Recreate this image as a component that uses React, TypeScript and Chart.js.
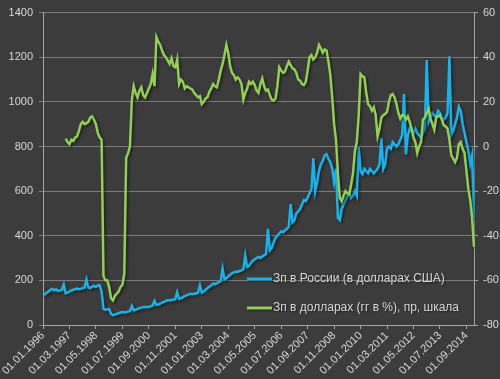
import React, { useEffect, useRef } from "react";
import { Chart, registerables } from "chart.js";

Chart.register(...registerables);

// Monthly categories: 01.01.1996 ... 01.01.2015
const START_YEAR = 1996;
const MONTH_COUNT = 229;
const CATEGORIES: string[] = [];
for (let k = 0; k < MONTH_COUNT; k++) {
  const y = START_YEAR + Math.floor(k / 12);
  const m = (k % 12) + 1;
  CATEGORIES.push(`01.${m < 10 ? "0" + m : m}.${y}`);
}
const LABEL_EVERY = 14;

const BLUE_LABEL = "Зп в России (в долларах США)";
const GREEN_LABEL = "Зп в долларах (гг в %), пр, шкала";

// Wages in Russia, USD (left axis), Jan 1996 - Jan 2015
const BLUE: number[] = [
  // 1996
  133, 138, 145, 150, 158, 162, 156, 160, 152, 155, 158, 182,
  // 1997
  142, 145, 150, 155, 158, 160, 163, 160, 162, 165, 168, 204,
  // 1998
  168, 165, 172, 175, 170, 178, 178, 150, 72, 68, 70, 72,
  // 1999
  50, 44, 47, 50, 53, 56, 58, 56, 58, 60, 62, 85,
  // 2000
  66, 68, 72, 75, 78, 80, 82, 80, 82, 84, 87, 108,
  // 2001
  90, 92, 96, 100, 104, 108, 112, 110, 112, 114, 116, 147,
  // 2002
  118, 120, 125, 130, 133, 137, 140, 138, 140, 142, 145, 178,
  // 2003
  145, 150, 158, 165, 172, 178, 185, 183, 188, 192, 198, 253,
  // 2004
  205, 210, 218, 225, 232, 236, 240, 238, 242, 245, 250, 311,
  // 2005
  260, 265, 278, 288, 295, 300, 305, 300, 308, 312, 318, 431,
  // 2006
  335, 345, 370, 390, 400, 410, 420, 415, 425, 430, 440, 542,
  // 2007
  460, 470, 500, 510, 520, 540, 560, 555, 570, 590, 610, 747,
  // 2008
  600, 640, 690, 720, 735, 760, 765, 745, 730, 700, 640, 700,
  // 2009
  480, 470, 520, 540, 560, 580, 590, 570, 580, 600, 580, 800,
  // 2010
  690, 676, 700, 690, 680, 700, 690, 680, 690, 700, 720, 836,
  // 2011
  700, 720, 790, 800, 790, 820, 810, 800, 810, 830, 850, 1035,
  // 2012
  765, 850, 880, 870, 860, 880, 860, 850, 840, 860, 880, 1187,
  // 2013
  911, 930, 950, 940, 930, 960, 950, 930, 920, 930, 950, 1204,
  // 2014
  853, 870, 900, 930, 978, 960, 900, 860, 820, 780, 720, 760,
  // 2015
  480,
];

// Wages in USD, year-on-year % (right axis), Jan 1997 - Jan 2015
const GREEN_START = 12;
const GREEN_VALUES: number[] = [
  // 1997
  3.5, 2, 1, 3, 2.5, 4, 4.5, 7, 10, 11, 10, 10.5,
  // 1998
  11, 13, 13.5, 12, 10, 6, 4, 3, -58, -60, -60, -63,
  // 1999
  -68, -69, -67, -66, -65, -63, -62, -57, -5, -3, 0, 21,
  // 2000
  27, 24, 22, 25, 26.5, 23, 22, 24, 26, 28, 32.5, 27,
  // 2001
  49, 47, 45.5, 43, 41, 40, 38.5, 37, 39.5, 36, 35.5, 39,
  // 2002
  28, 30, 29, 26, 27, 26.5, 26, 25.5, 24, 23, 22, 22.5,
  // 2003
  19, 20, 21.5, 22, 24.5, 26, 28, 27, 26.5, 30, 34, 37,
  // 2004
  41, 45.5, 42, 36, 33, 32, 30, 31, 30, 28, 21, 24,
  // 2005
  26, 29, 28, 29, 27.5, 25, 24, 28, 30.5, 27, 25, 25.5,
  // 2006
  23, 21, 20.5, 21.5, 27, 35.5, 34, 33, 33.5, 36, 38, 36.5,
  // 2007
  35, 34.5, 33, 30, 29.5, 28, 27.5, 29, 34, 40, 41, 39,
  // 2008
  40, 42, 45.5, 44, 42, 43.5, 43, 38, 32, 22, 10, 3,
  // 2009
  -12, -23, -24.5, -22, -20, -21, -21.5, -17, -12, -2, 2, 14,
  // 2010
  32.5, 31.5, 31, 24, 19, 18, 16, 17.5, 14, 4.5, 8, 13,
  // 2011
  14, 14.5, 15.5, 20, 23, 23.5, 22, 19, 15, 12.5, 14, 14,
  // 2012
  12, 13.5, 11, 8, 4, 2, -3, 0, 2, 12, 13, 15,
  // 2013
  17, 12.5, 10, 7.5, 13, 13.5, 14, 12, 9.5, 9, 8, 3,
  // 2014
  -4, -5.5, -7, -5, 1, 2, -1, -3, -11, -19, -24, -32,
  // 2015
  -45,
];
const GREEN: (number | null)[] = [
  ...new Array(GREEN_START).fill(null),
  ...GREEN_VALUES,
];

const LEFT_MIN = 0;
const LEFT_MAX = 1400;
const LEFT_STEP = 200;
const RIGHT_MIN = -80;
const RIGHT_MAX = 60;
const RIGHT_STEP = 20;

const BG = "#3c3c3c";
const TEXT = "#d9d9d9";
const GRID = "#7c7c7c";
const AXIS = "#a6a6a6";
const BLUE_COLOR = "#16b4ec";
const GREEN_COLOR = "#92d050";
const FONT = "'Liberation Sans', Arial, sans-serif";

export default function App() {
  const ref = useRef<HTMLCanvasElement | null>(null);

  useEffect(() => {
    document.body.style.margin = "0";
    const canvas = ref.current;
    if (!canvas) return;

    const bgPlugin = {
      id: "bg",
      beforeDraw(chart: any) {
        const ctx = chart.ctx;
        ctx.save();
        ctx.fillStyle = BG;
        ctx.fillRect(0, 0, chart.width, chart.height);
        ctx.restore();
      },
    };

    const shadowPlugin = {
      id: "lineShadow",
      beforeDatasetDraw(chart: any) {
        const ctx = chart.ctx;
        ctx.save();
        ctx.shadowColor = "rgba(0,0,0,0.55)";
        ctx.shadowBlur = 3;
        ctx.shadowOffsetX = 1.5;
        ctx.shadowOffsetY = 1.5;
      },
      afterDatasetDraw(chart: any) {
        chart.ctx.restore();
      },
    };

    const legendPlugin = {
      id: "innerLegend",
      afterDatasetsDraw(chart: any) {
        const ctx = chart.ctx;
        const items = [
          { label: BLUE_LABEL, color: BLUE_COLOR, y: 279 },
          { label: GREEN_LABEL, color: GREEN_COLOR, y: 308 },
        ];
        ctx.save();
        for (const it of items) {
          ctx.shadowColor = "rgba(0,0,0,0.5)";
          ctx.shadowBlur = 2;
          ctx.shadowOffsetX = 1;
          ctx.shadowOffsetY = 1;
          ctx.strokeStyle = it.color;
          ctx.lineWidth = 3;
          ctx.beginPath();
          ctx.moveTo(247, it.y);
          ctx.lineTo(272, it.y);
          ctx.stroke();
          ctx.fillStyle = TEXT;
          ctx.font = `12px ${FONT}`;
          ctx.textBaseline = "middle";
          ctx.textAlign = "left";
          ctx.fillText(it.label, 273, it.y);
        }
        ctx.restore();
      },
    };

    const chart = new Chart(canvas, {
      type: "line",
      data: {
        labels: CATEGORIES,
        datasets: [
          {
            label: BLUE_LABEL,
            data: BLUE,
            borderColor: BLUE_COLOR,
            backgroundColor: BLUE_COLOR,
            borderWidth: 2.5,
            pointRadius: 0,
            tension: 0,
            yAxisID: "y",
            order: 2,
          },
          {
            label: GREEN_LABEL,
            data: GREEN,
            borderColor: GREEN_COLOR,
            backgroundColor: GREEN_COLOR,
            borderWidth: 2.5,
            pointRadius: 0,
            tension: 0,
            yAxisID: "y1",
            order: 1,
          },
        ],
      },
      options: {
        animation: false,
        responsive: false,
        devicePixelRatio: 1,
        layout: { padding: { top: 9, left: 0, right: 0, bottom: 0 } },
        plugins: {
          legend: { display: false },
          tooltip: { enabled: false },
        },
        scales: {
          x: {
            type: "category",
            offset: false,
            grid: {
              display: true,
              drawOnChartArea: false,
              drawTicks: true,
              tickLength: 4,
              color: AXIS,
            },
            border: { display: true, color: AXIS, width: 1 },
            ticks: {
              autoSkip: false,
              maxRotation: 45,
              minRotation: 45,
              color: TEXT,
              padding: 0,
              font: { size: 11, family: FONT },
              callback: (_v: any, i: number) =>
                i % LABEL_EVERY === 0 ? CATEGORIES[i] : null,
            },
            afterFit: (s: any) => {
              s.height = 54;
            },
          },
          y: {
            position: "left",
            min: LEFT_MIN,
            max: LEFT_MAX,
            grid: { color: GRID, tickLength: 4, lineWidth: 1 },
            border: { display: true, color: AXIS, width: 1 },
            ticks: {
              stepSize: LEFT_STEP,
              color: TEXT,
              padding: 6,
              font: { size: 11, family: FONT },
              callback: (v: any) => String(v),
            },
            afterFit: (s: any) => {
              s.width = 43;
            },
          },
          y1: {
            position: "right",
            min: RIGHT_MIN,
            max: RIGHT_MAX,
            grid: {
              drawOnChartArea: false,
              color: AXIS,
              tickLength: 4,
            },
            border: { display: true, color: AXIS, width: 1 },
            ticks: {
              stepSize: RIGHT_STEP,
              color: TEXT,
              padding: 5,
              font: { size: 11, family: FONT },
              callback: (v: any) => String(v),
            },
            afterFit: (s: any) => {
              s.width = 26;
            },
          },
        },
      },
      plugins: [bgPlugin, shadowPlugin, legendPlugin],
    } as any);

    return () => chart.destroy();
  }, []);

  return (
    <div style={{ width: 500, height: 379 }}>
      <canvas ref={ref} width={500} height={379} style={{ display: "block" }} />
    </div>
  );
}
